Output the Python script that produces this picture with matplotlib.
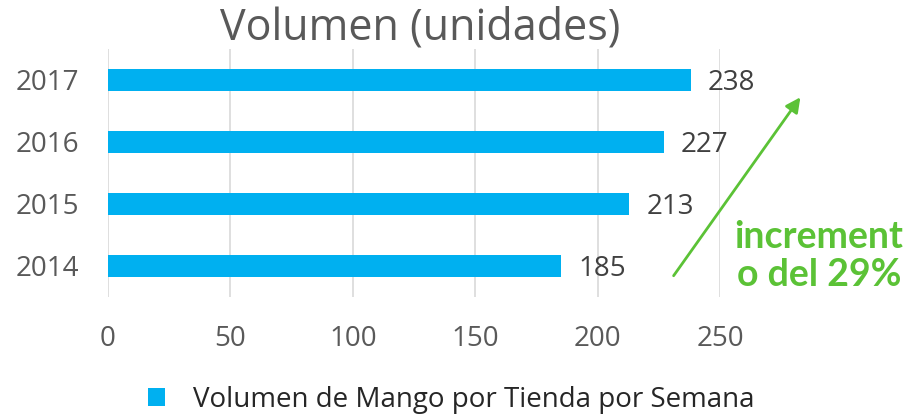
import matplotlib
matplotlib.use('Agg')
import matplotlib.pyplot as plt
from matplotlib.patches import FancyArrowPatch

# datos
years = ['2014', '2015', '2016', '2017']
volumen = [185, 213, 227, 238]
serie = 'Volumen de Mango por Tienda por Semana'
titulo = 'Volumen (unidades)'
nota = 'increment\no del 29%'
xticks = [0, 50, 100, 150, 200, 250]

azul = '#00B0F0'
verde = '#5BC236'

plt.rcParams['font.family'] = ['Open Sans', 'DejaVu Sans']

fig = plt.figure(figsize=(9.12, 4.18), dpi=100)
ax = fig.add_axes([0.1184, 0.2895, 0.6711, 0.5933])

bars = ax.barh(years, volumen, height=0.36, color=azul, label=serie, zorder=3)
for b, v in zip(bars, volumen):
    ax.text(v + 7, b.get_y() + b.get_height() / 2 - 0.05, str(v),
            va='center', ha='left', fontsize=20, color='#404040')

ax.set_xlim(0, 250)
ax.set_ylim(-0.5, 3.5)
ax.set_xticks(xticks)
ax.grid(axis='x', color='#D9D9D9', linewidth=1.2, zorder=0)
for s in ax.spines.values():
    s.set_visible(False)
ax.tick_params(length=0, labelsize=20, labelcolor='#595959')
ax.tick_params(axis='x', pad=20)
ax.tick_params(axis='y', pad=21)

fig.text(0.461, 0.932, titulo, ha='center', va='center', fontsize=31, color='#595959')

# flecha y nota
arrow = FancyArrowPatch((672 / 912, 1 - 278 / 418), (802 / 912, 1 - 95 / 418),
                        transform=fig.transFigure, arrowstyle='-|>', mutation_scale=22,
                        color=verde, linewidth=2)
fig.patches.append(arrow)
fig.text(0.898, 0.388, nota, ha='center', va='center', fontsize=27,
         fontweight='bold', color=verde, family=['Lato', 'DejaVu Sans'], linespacing=1.15)

fig.legend(loc='lower center', bbox_to_anchor=(0.495, -0.05), frameon=False, fontsize=20,
           handlelength=0.6, handleheight=0.6, handletextpad=1.0, labelcolor='#262626')

fig.savefig('out.png', dpi=100)
